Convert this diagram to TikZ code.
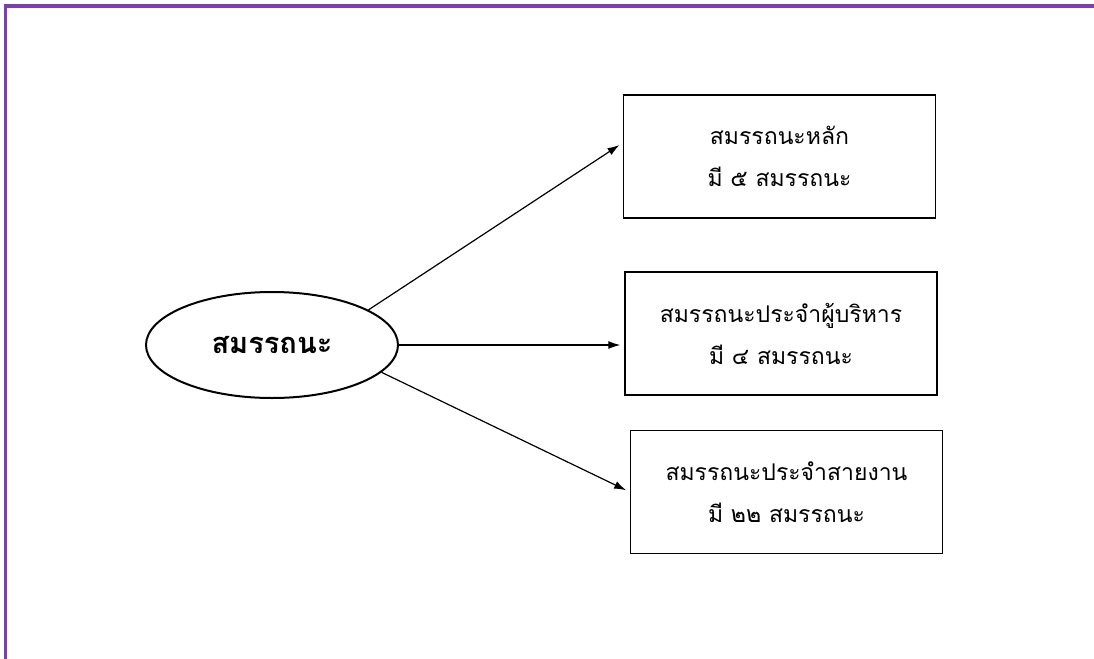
\documentclass[tikz,border=0pt]{standalone}
\usepackage{fontspec}
\newfontfamily\thaifont[Script=Thai]{Loma}
\usetikzlibrary{shapes.geometric,arrows.meta}
\definecolor{framepurple}{HTML}{7B3FB0}

\begin{document}
\begin{tikzpicture}[x=0.5pt, y=-0.5pt,
		every node/.style={font=\thaifont\fontsize{11.5}{21}\selectfont, align=center, inner sep=0pt},
		box/.style={draw, line width=0.7pt, minimum width=156pt, minimum height=61.5pt},
		arr/.style={-{Latex[length=6pt,width=4pt]}, line width=0.6pt, shorten >=2pt}]
		\useasboundingbox (0,0) rectangle (1094,659);

		%––––– frame –––––
		\draw[framepurple, line width=1.6pt] (5.5,659) -- (5.5,6) -- (1094,6);

		%––––– centre –––––
		\node[ellipse, draw, line width=1pt, minimum width=126pt, minimum height=53pt] (c) at (272,345) {\fontsize{14.5}{18}\selectfont\bfseries สมรรถนะ};

		%––––– boxes –––––
		\node[box] (b1) at (779.5,156.5) {สมรรถนะหลัก\\มี ๕ สมรรถนะ};
		\node[box] (b2) at (781,333.5) {สมรรถนะประจำผู้บริหาร\\มี ๔ สมรรถนะ};
		\node[box] (b3) at (786.5,492) {สมรรถนะประจำสายงาน\\มี ๒๒ สมรรถนะ};

		%––––– arrows –––––
		\draw[arr] (c.20) -- (b1.175);
		\draw[arr] (c.east) -- (c.east -| b2.west);
		\draw[arr] (c.-14) -- (b3.west);
	\end{tikzpicture}
\end{document}
